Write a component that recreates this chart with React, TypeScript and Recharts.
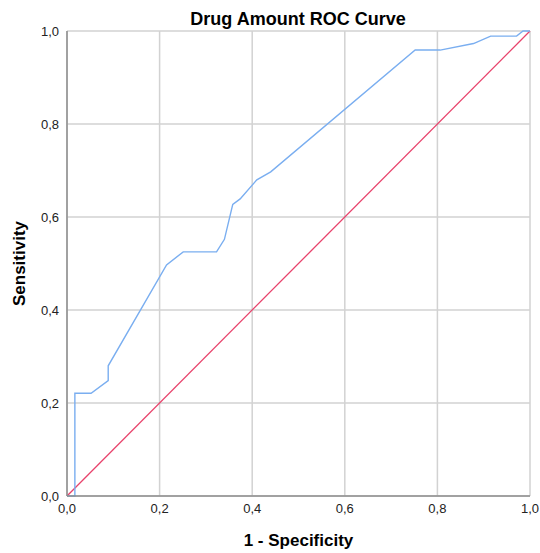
import { LineChart, Line, XAxis, YAxis, CartesianGrid } from "recharts";

const fpr = [0, 0.017, 0.017, 0.052, 0.089, 0.089, 0.215, 0.251, 0.323, 0.34, 0.358, 0.374, 0.41, 0.44, 0.752, 0.806, 0.878, 0.915, 0.971, 0.985, 1];
const tpr = [0, 0, 0.221, 0.221, 0.248, 0.28, 0.497, 0.525, 0.525, 0.552, 0.627, 0.639, 0.68, 0.697, 0.959, 0.959, 0.973, 0.989, 0.989, 1, 1];

const refX = [0, 1];
const refY = [0, 1];

const ticks = [0, 0.2, 0.4, 0.6, 0.8, 1];

const curve = fpr.map((x, i) => ({ x, y: tpr[i] }));
const diagonal = refX.map((x, i) => ({ x, y: refY[i] }));

const fmt = (v: number) => v.toFixed(1).replace(".", ",");

const FONT = "'Liberation Sans', Arial, sans-serif";

export default function App() {
  return (
    <div style={{ position: "relative", width: 540, height: 553, background: "#fff", fontFamily: FONT, overflow: "hidden" }}>
      <style>{`body{margin:0}`}</style>
      <div
        style={{
          position: "absolute",
          top: 8,
          left: 8,
          width: 580,
          textAlign: "center",
          fontSize: 18,
          fontWeight: "bold",
          lineHeight: "22px",
          color: "#000",
          zIndex: 1,
        }}
      >
        Drug Amount ROC Curve
      </div>
      <LineChart
        width={540}
        height={553}
        margin={{ top: 31, right: 10, bottom: 27, left: 37 }}
        style={{ fontFamily: FONT }}
      >
        <CartesianGrid stroke="#d2d2d2" strokeWidth={1.5} />
        <XAxis
          type="number"
          dataKey="x"
          domain={[0, 1]}
          ticks={ticks}
          tickFormatter={fmt}
          tickLine={false}
          axisLine={{ stroke: "#8c8c8c", strokeWidth: 1.5 }}
          tick={{ fill: "#222", fontSize: 13 }}
          interval={0}
          height={30}
          label={{ value: "1 - Specificity", position: "insideBottom", offset: -20, fontSize: 17, fontWeight: "bold", fill: "#000" }}
        />
        <YAxis
          type="number"
          dataKey="y"
          domain={[0, 1]}
          ticks={ticks}
          tickFormatter={fmt}
          tickLine={false}
          axisLine={{ stroke: "#8c8c8c", strokeWidth: 1.5 }}
          tick={{ fill: "#222", fontSize: 13 }}
          width={30}
          label={{ value: "Sensitivity", angle: -90, position: "insideLeft", offset: -18, fontSize: 17, fontWeight: "bold", fill: "#000", style: { textAnchor: "middle" } }}
        />
        <Line
          data={diagonal}
          dataKey="y"
          type="linear"
          stroke="#e8426b"
          strokeWidth={1.3}
          dot={false}
          isAnimationActive={false}
        />
        <Line
          data={curve}
          dataKey="y"
          type="linear"
          stroke="#7aaef0"
          strokeWidth={1.4}
          dot={false}
          isAnimationActive={false}
        />
      </LineChart>
    </div>
  );
}
